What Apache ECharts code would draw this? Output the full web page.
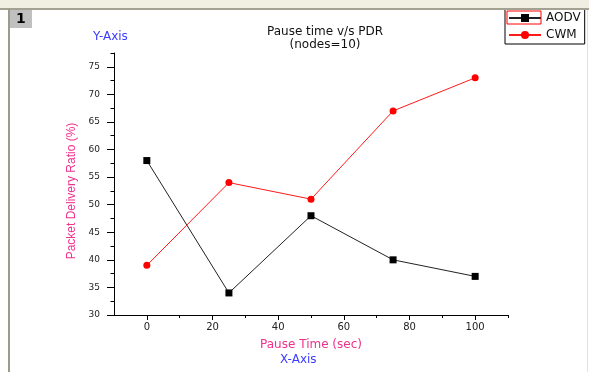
<!DOCTYPE html>
<html>
<head>
<meta charset="utf-8">
<script src="https://cdn.jsdelivr.net/npm/echarts@6/dist/echarts.min.js"></script>
<style>
  html, body { margin: 0; padding: 0; background: #fff; }
  #main { width: 589px; height: 372px; }
</style>
</head>
<body>
<div id="main"></div>
<script>
// values
var pauseTimes = [0, 25, 50, 75, 100];
var aodv = [58, 34, 48, 40, 37];
var cwm = [39, 54, 51, 67, 73];

var xTicks = [0, 20, 40, 60, 80, 100];
var xMinorTicks = [10, 30, 50, 70, 90, 110];
var yTicks = [30, 35, 40, 45, 50, 55, 60, 65, 70, 75];
var yMinorTicks = [32.5, 37.5, 42.5, 47.5, 52.5, 57.5, 62.5, 67.5, 72.5, 77.5];

function pairs(xs, ys) {
  return xs.map(function (x, i) { return [x, ys[i]]; });
}

var pink = '#f0308c';
var blue = '#3c3cff';

var myChart = echarts.init(document.getElementById('main'));
myChart.setOption({
  animation: false,
  backgroundColor: '#fff',
  title: {
    text: 'Pause time v/s PDR\n(nodes=10)',
    left: 320,
    top: 20,
    textAlign: 'center',
    textStyle: {
      fontFamily: 'DejaVu Sans',
      fontSize: 12,
      fontWeight: 'normal',
      color: '#111',
      lineHeight: 13
    }
  },
  legend: {
    data: ['AODV', 'CWM'],
    orient: 'vertical',
    left: 505,
    top: 3,
    padding: [9, 4, 3, 3],
    itemWidth: 32,
    itemHeight: 10,
    itemGap: 5,
    borderColor: '#000',
    borderWidth: 1,
    backgroundColor: '#fff',
    textStyle: { fontFamily: 'DejaVu Sans', fontSize: 12, color: '#111' }
  },
  grid: { left: 114, right: 81, top: 53, bottom: 57 },
  xAxis: [{
    type: 'value',
    position: 'bottom',
    min: -10,
    max: 110,
    name: 'Pause Time (sec)',
    nameLocation: 'middle',
    nameGap: 24,
    nameTextStyle: { fontFamily: 'DejaVu Sans', fontSize: 12, color: pink },
    axisLine: { onZero: false, lineStyle: { color: '#000', width: 1 } },
    axisTick: { customValues: xTicks, length: 5, lineStyle: { color: '#000' } },
    axisLabel: { customValues: xTicks, margin: 7, fontFamily: 'DejaVu Sans', fontSize: 10, color: '#222' },
    splitLine: { show: false }
  }, {
    type: 'value',
    position: 'bottom',
    min: -10,
    max: 110,
    axisLine: { show: false, onZero: false },
    axisTick: { customValues: xMinorTicks, length: 3, lineStyle: { color: '#000' } },
    axisLabel: { show: false },
    splitLine: { show: false }
  }],
  yAxis: [{
    type: 'value',
    position: 'left',
    min: 30,
    max: 77.5,
    name: 'Packet Delivery Ratio (%)',
    nameLocation: 'middle',
    nameGap: 30,
    nameTextStyle: { fontFamily: 'Liberation Sans', fontSize: 12, color: pink, padding: [0, 14, 0, 0] },
    axisLine: { show: true, onZero: false, lineStyle: { color: '#000', width: 1 } },
    axisTick: { show: true, customValues: yTicks, length: 7, lineStyle: { color: '#000' } },
    axisLabel: { customValues: yTicks, margin: 14, fontFamily: 'DejaVu Sans', fontSize: 9, color: '#222' },
    splitLine: { show: false }
  }, {
    type: 'value',
    position: 'left',
    min: 30,
    max: 77.5,
    axisLine: { show: false, onZero: false },
    axisTick: { show: true, customValues: yMinorTicks, length: 3.5, lineStyle: { color: '#000' } },
    axisLabel: { show: false },
    splitLine: { show: false }
  }],
  series: [{
    name: 'AODV',
    type: 'line',
    data: pairs(pauseTimes, aodv),
    symbol: 'rect',
    symbolSize: 7,
    color: '#000',
    lineStyle: { color: '#222', width: 1 },
    itemStyle: { color: '#000' }
  }, {
    name: 'CWM',
    type: 'line',
    data: pairs(pauseTimes, cwm),
    symbol: 'circle',
    symbolSize: 7,
    color: '#ff0000',
    lineStyle: { color: '#ff1a1a', width: 1 },
    itemStyle: { color: '#ff0000' }
  }],
  graphic: [
    { type: 'rect', shape: { x: 0, y: 0, width: 589, height: 9 }, style: { fill: '#f1efe2' }, z: 50 },
    { type: 'rect', shape: { x: 0, y: 8, width: 589, height: 2 }, style: { fill: '#a3a192' }, z: 51 },
    { type: 'rect', shape: { x: 8, y: 9, width: 2, height: 363 }, style: { fill: '#9c9a88' }, z: 51 },
    { type: 'rect', shape: { x: 587, y: 10, width: 1, height: 362 }, style: { fill: '#e2e2e2' }, z: 51 },
    { type: 'rect', shape: { x: 10, y: 10, width: 22, height: 18 }, style: { fill: '#c0c0c0' }, z: 51 },
    { type: 'text', left: 16, top: 12, style: { text: '1', fontFamily: 'DejaVu Sans', fontSize: 14, fontWeight: 'bold', fill: '#000' }, z: 52 },
    { type: 'text', left: 93, top: 31, style: { text: 'Y-Axis', fontFamily: 'DejaVu Sans', fontSize: 12, fill: blue }, z: 52 },
    { type: 'text', left: 280, top: 354, style: { text: 'X-Axis', fontFamily: 'DejaVu Sans', fontSize: 12, fill: blue }, z: 52 },
    { type: 'rect', shape: { x: 507, y: 11, width: 34, height: 13 }, style: { fill: 'none', stroke: '#ff0000', lineWidth: 1 }, z: 100 }
  ]
});
</script>
</body>
</html>
